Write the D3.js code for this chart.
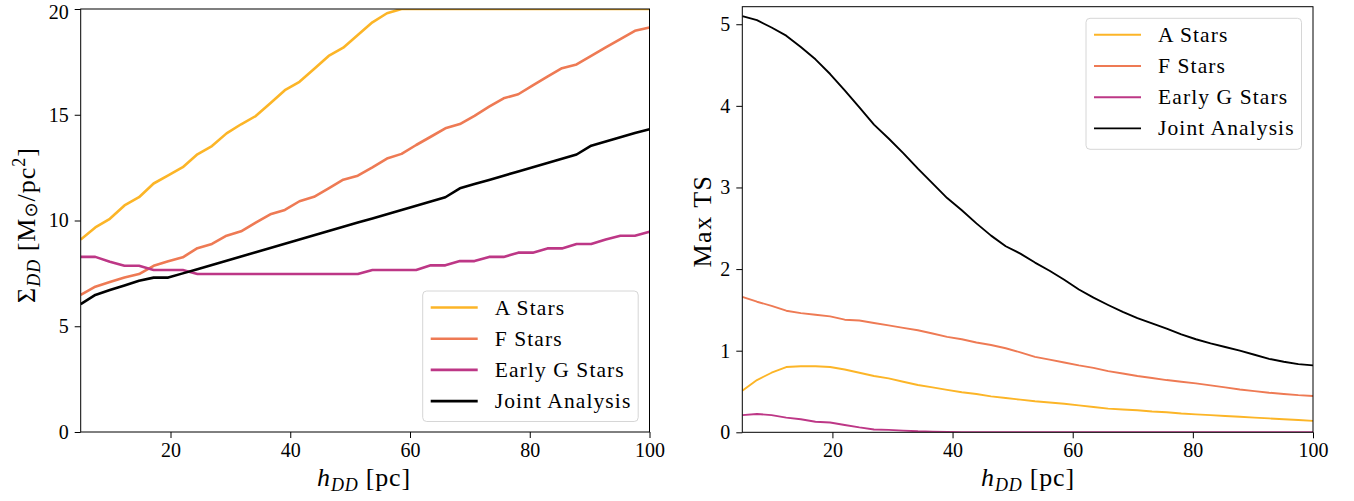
<!DOCTYPE html>
<html>
<head>
<meta charset="utf-8">
<script src="https://cdn.jsdelivr.net/npm/d3@7"></script>
<style>
  html, body { margin: 0; padding: 0; background: #fff; }
  svg { display: block; font-family: "Liberation Serif", "DejaVu Serif", serif; }
</style>
</head>
<body>
<svg id="chart" width="1354" height="501"></svg>
<script>
// ---------------- data ----------------
const hDD = [5.00, 7.44, 9.87, 12.31, 14.74, 17.18, 19.62, 22.05, 24.49, 26.92,
             29.36, 31.79, 34.23, 36.67, 39.10, 41.54, 43.97, 46.41, 48.85, 51.28,
             53.72, 56.15, 58.59, 61.03, 63.46, 65.90, 68.33, 70.77, 73.21, 75.64,
             78.08, 80.51, 82.95, 85.38, 87.82, 90.26, 92.69, 95.13, 97.56, 100.00];

const seriesNames = ["A Stars", "F Stars", "Early G Stars", "Joint Analysis"];
const seriesColors = ["#fcb527", "#ee7a54", "#bd3786", "#000000"];

// Left panel: Sigma_DD [Msun/pc^2]
const sigmaA = [9.10, 9.67, 10.08, 10.71, 11.10, 11.75, 12.13, 12.52, 13.13, 13.52,
                14.12, 14.55, 14.94, 15.54, 16.16, 16.56, 17.16, 17.78, 18.17, 18.77,
                19.37, 19.80, 20.0, 20.0, 20.0, 20.0, 20.0, 20.0, 20.0, 20.0,
                20.0, 20.0, 20.0, 20.0, 20.0, 20.0, 20.0, 20.0, 20.0, 20.0];
const sigmaF = [6.48, 6.87, 7.09, 7.30, 7.47, 7.86, 8.07, 8.26, 8.69, 8.89,
                9.28, 9.49, 9.90, 10.29, 10.50, 10.91, 11.12, 11.52, 11.93, 12.12,
                12.51, 12.93, 13.15, 13.57, 13.96, 14.36, 14.56, 14.95, 15.38, 15.78,
                15.97, 16.39, 16.80, 17.20, 17.38, 17.78, 18.18, 18.58, 18.97, 19.13];
const sigmaG = [8.28, 8.28, 8.05, 7.86, 7.86, 7.66, 7.66, 7.66, 7.47, 7.47,
                7.47, 7.47, 7.47, 7.47, 7.47, 7.47, 7.47, 7.47, 7.47, 7.47,
                7.66, 7.66, 7.66, 7.66, 7.88, 7.88, 8.08, 8.08, 8.28, 8.28,
                8.48, 8.48, 8.68, 8.68, 8.89, 8.89, 9.10, 9.28, 9.28, 9.47];
const sigmaJoint = [6.05, 6.48, 6.71, 6.93, 7.15, 7.30, 7.30, 7.50, 7.70, 7.90,
                    8.10, 8.30, 8.50, 8.70, 8.90, 9.10, 9.30, 9.50, 9.70, 9.90,
                    10.10, 10.30, 10.50, 10.70, 10.90, 11.10, 11.52, 11.72, 11.92, 12.12,
                    12.32, 12.52, 12.72, 12.92, 13.12, 13.54, 13.74, 13.94, 14.14, 14.31];

// Right panel: Max TS
const tsA = [0.51, 0.64, 0.73, 0.80, 0.81, 0.81, 0.80, 0.77, 0.73, 0.69,
             0.66, 0.62, 0.58, 0.55, 0.52, 0.49, 0.47, 0.44, 0.42, 0.40,
             0.38, 0.365, 0.35, 0.33, 0.31, 0.29, 0.28, 0.27, 0.255, 0.245,
             0.23, 0.22, 0.21, 0.20, 0.19, 0.18, 0.17, 0.16, 0.15, 0.14];
const tsF = [1.66, 1.60, 1.55, 1.49, 1.46, 1.44, 1.42, 1.38, 1.37, 1.34,
             1.31, 1.28, 1.25, 1.21, 1.17, 1.14, 1.10, 1.07, 1.03, 0.98,
             0.925, 0.89, 0.855, 0.82, 0.79, 0.75, 0.72, 0.69, 0.665, 0.64,
             0.62, 0.60, 0.575, 0.55, 0.525, 0.505, 0.485, 0.47, 0.455, 0.445];
const tsG = [0.21, 0.225, 0.21, 0.18, 0.16, 0.13, 0.12, 0.09, 0.06, 0.035,
             0.03, 0.02, 0.012, 0.008, 0.004, 0.002, 0, 0, 0, 0,
             0, 0, 0, 0, 0, 0, 0, 0, 0, 0,
             0, 0, 0, 0, 0, 0, 0, 0, 0, 0];
const tsJoint = [5.10, 5.05, 4.96, 4.86, 4.72, 4.57, 4.39, 4.19, 3.98, 3.77,
                 3.60, 3.42, 3.23, 3.05, 2.87, 2.72, 2.56, 2.41, 2.28, 2.19,
                 2.08, 1.98, 1.87, 1.75, 1.65, 1.56, 1.475, 1.40, 1.335, 1.27,
                 1.20, 1.14, 1.09, 1.045, 1.00, 0.95, 0.90, 0.865, 0.835, 0.82];

const xTicks = [20, 40, 60, 80, 100];
const leftYTicks = [0, 5, 10, 15, 20];
const rightYTicks = [0, 1, 2, 3, 4, 5];

// ---------------- drawing ----------------
const svg = d3.select("#chart");

function panel(opts) {
  const { id, x0, x1, yTop, yBot, yDomain, series, yTicks, lw, legendBox } = opts;
  const x = d3.scaleLinear().domain([5, 100]).range([x0, x1]);
  const y = d3.scaleLinear().domain(yDomain).range([yBot, yTop]);
  const g = svg.append("g");

  g.append("clipPath").attr("id", "clip" + id)
    .append("rect").attr("x", x0).attr("y", yTop).attr("width", x1 - x0).attr("height", yBot - yTop);

  const line = d3.line().x((d, i) => x(hDD[i])).y(d => y(d));
  const lines = g.append("g").attr("clip-path", `url(#clip${id})`);
  series.forEach((s, k) => {
    lines.append("path").datum(s)
      .attr("d", line)
      .attr("fill", "none")
      .attr("stroke", seriesColors[k])
      .attr("stroke-width", lw)
      .attr("stroke-linejoin", "round")
      .attr("stroke-linecap", "butt");
  });

  // axes
  const xAxis = d3.axisBottom(x).tickValues(xTicks).tickSize(6).tickPadding(5).tickFormat(d3.format("d"));
  const gx = g.append("g").attr("transform", `translate(0,${yBot})`).call(xAxis);
  const yAxis = d3.axisLeft(y).tickValues(yTicks).tickSize(6).tickPadding(6).tickFormat(d3.format("d"));
  const gy = g.append("g").attr("transform", `translate(${x0},0)`).call(yAxis);
  [gx, gy].forEach(a => {
    a.select(".domain").remove();
    a.selectAll(".tick line").attr("stroke", "#000").attr("stroke-width", 1);
    a.selectAll(".tick text").attr("fill", "#000").style("font-size", "20px")
      .style("font-family", '"Liberation Serif", serif');
  });
  gx.selectAll(".tick text").attr("dy", "0.71em");
  // keep the topmost y label inside the picture
  gy.selectAll(".tick text").filter(d => y(d) < 14).attr("dy", "0.45em");

  // frame
  g.append("rect").attr("x", x0).attr("y", yTop).attr("width", x1 - x0).attr("height", yBot - yTop)
    .attr("fill", "none").attr("stroke", "#000").attr("stroke-width", 1);

  // legend
  const lg = g.append("g").attr("transform", `translate(${legendBox.x},${legendBox.y})`);
  lg.append("rect").attr("width", legendBox.w).attr("height", legendBox.h)
    .attr("rx", 4).attr("ry", 4)
    .attr("fill", "rgba(255,255,255,0.85)").attr("stroke", "#d6d6d6").attr("stroke-width", 1);
  seriesNames.forEach((name, k) => {
    const ry = 16.5 + k * 31.2;
    lg.append("line").attr("x1", 8).attr("x2", 55).attr("y1", ry).attr("y2", ry)
      .attr("stroke", seriesColors[k]).attr("stroke-width", lw);
    lg.append("text").attr("x", 72).attr("y", ry + 7)
      .style("font-size", "21.5px").style("letter-spacing", "1.1px")
      .attr("fill", "#000").text(name);
  });
  return { x, y };
}

panel({
  id: "L", x0: 80.7, x1: 649.5, yTop: 9, yBot: 432, yDomain: [0, 20],
  series: [sigmaA, sigmaF, sigmaG, sigmaJoint], yTicks: leftYTicks, lw: 2.6,
  legendBox: { x: 422.7, y: 291, w: 215.5, h: 130.5 }
});
panel({
  id: "R", x0: 742.3, x1: 1313, yTop: 6.7, yBot: 432.3, yDomain: [0, 5.215],
  series: [tsA, tsF, tsG, tsJoint], yTicks: rightYTicks, lw: 1.9,
  legendBox: { x: 1086, y: 18.3, w: 215.5, h: 131 }
});

// axis labels
function xLabel(cx) {
  const t = svg.append("text").attr("x", cx).attr("y", 486).attr("text-anchor", "middle")
    .style("font-size", "26px").style("letter-spacing", "0.8px").attr("fill", "#000");
  t.append("tspan").style("font-style", "italic").text("h");
  t.append("tspan").style("font-style", "italic").style("font-size", "18px").attr("dy", 5).text("DD");
  t.append("tspan").attr("dy", -5).text(" [pc]");
}
xLabel(364);
xLabel(1028);

const yl = svg.append("text").attr("transform", "translate(35,225) rotate(-90)")
  .attr("text-anchor", "middle").style("font-size", "26px").style("letter-spacing", "1px").attr("fill", "#000");
yl.append("tspan").text("Σ");
yl.append("tspan").style("font-style", "italic").style("font-size", "18px").attr("dy", 5).text("DD");
yl.append("tspan").attr("dy", -5).text(" [M");
yl.append("tspan").style("font-family", '"DejaVu Sans", sans-serif').style("font-size", "18px").attr("dy", 2).text("⊙");
yl.append("tspan").attr("dy", -2).text("/pc");
yl.append("tspan").style("font-size", "18px").attr("dy", -10).text("2");
yl.append("tspan").attr("dy", 10).text("]");

svg.append("text").attr("transform", "translate(711,221) rotate(-90)")
  .attr("text-anchor", "middle").style("font-size", "26px").style("letter-spacing", "1.5px")
  .attr("fill", "#000").text("Max TS");
</script>
</body>
</html>
